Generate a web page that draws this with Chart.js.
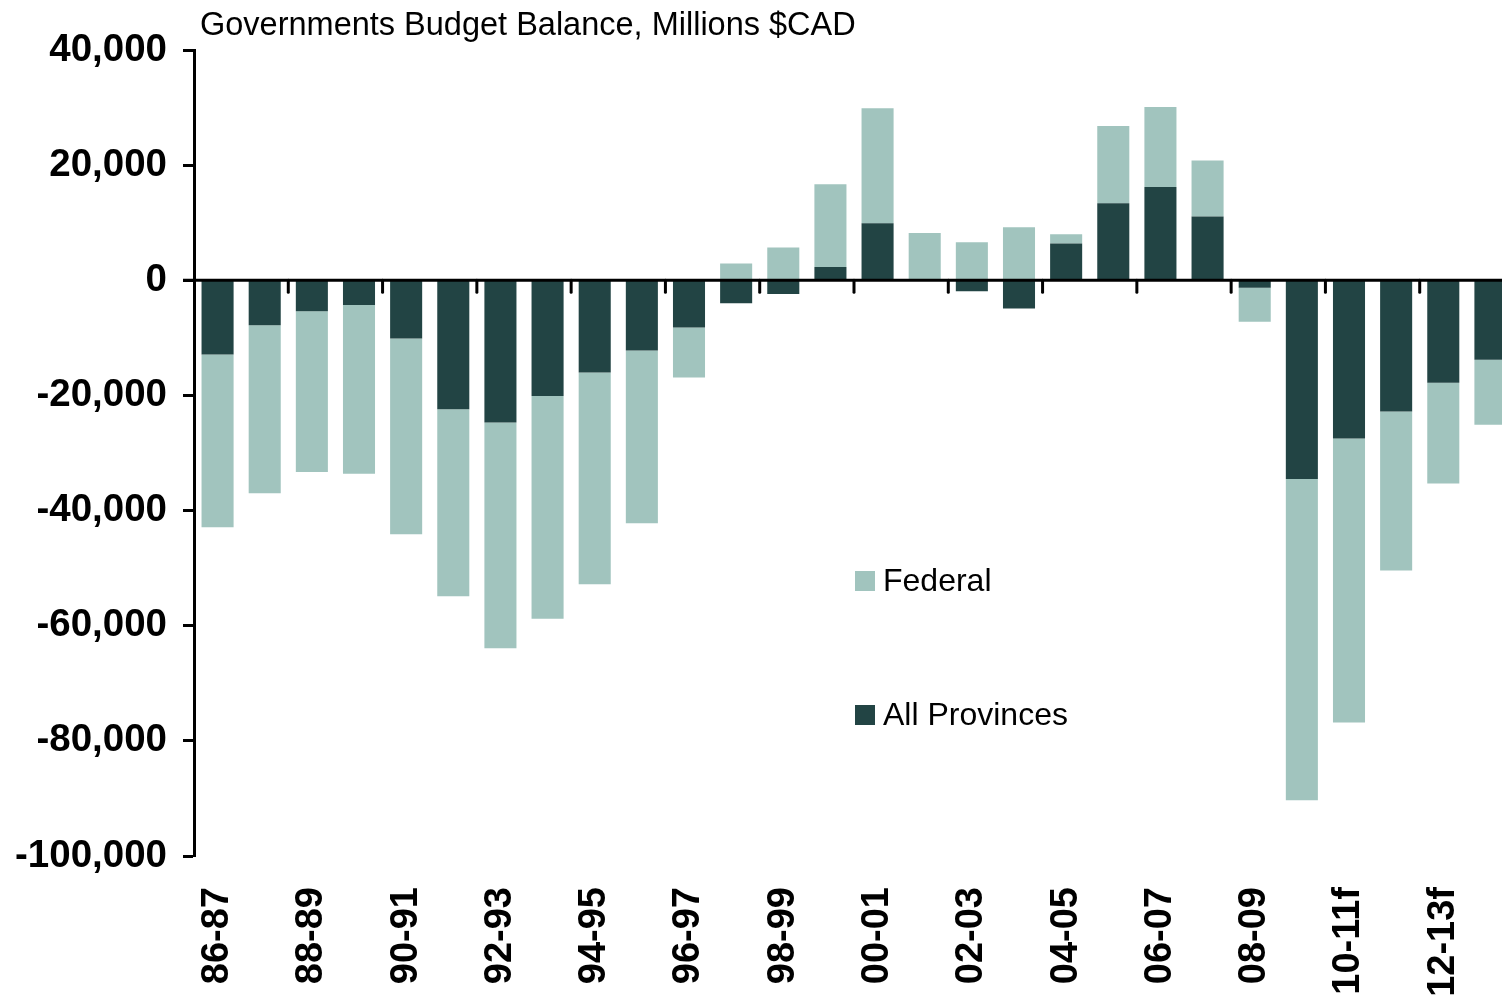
<!DOCTYPE html>
<html>
<head>
<meta charset="utf-8">
<title>Governments Budget Balance</title>
<script src="https://cdn.jsdelivr.net/npm/chart.js@4.4.0/dist/chart.umd.min.js"></script>
<style>
  html, body { margin: 0; padding: 0; background: #fff; overflow: hidden; }
  #wrap { width: 1502px; height: 996px; overflow: hidden; }
</style>
</head>
<body>
<div id="wrap"><canvas id="budget-chart" width="1514" height="996"></canvas></div>
<script>
// fiscal years, the last four are forecasts
const years = ['86-87', '87-88', '88-89', '89-90', '90-91', '91-92', '92-93', '93-94',
  '94-95', '95-96', '96-97', '97-98', '98-99', '99-00', '00-01', '01-02', '02-03',
  '03-04', '04-05', '05-06', '06-07', '07-08', '08-09', '09-10', '10-11f', '11-12f',
  '12-13f', '13-14f'];

// budget balance, millions $CAD
const provinces = [-12900, -7800, -5400, -4300, -10100, -22400, -24700, -20100, -16000,
  -12200, -8200, -4000, -2400, 2300, 9900, 0, -1900, -4900, 6400, 13400, 16200, 11100,
  -1300, -34500, -27500, -22800, -17800, -13800];
const federal = [-30000, -29200, -27900, -29300, -34000, -32500, -39200, -38700, -36800,
  -30000, -8700, 2900, 5700, 14400, 20000, 8200, 6600, 9200, 1600, 13400, 13900, 9700,
  -5900, -55800, -49300, -27600, -17500, -11300];

const yMin = -100000;
const yMax = 40000;
const yStep = 20000;

const FONT = '"Liberation Sans", Arial, Helvetica, sans-serif';
Chart.defaults.font.family = FONT;
Chart.defaults.color = '#000';

// zero line, its tick marks, the title and the legend
const decorations = {
    id: 'decorations',
    afterDatasetsDraw(chart) {
        const { ctx, chartArea, scales: { x, y } } = chart;
        const y0 = y.getPixelForValue(0);
        const half = (x.getPixelForValue(1) - x.getPixelForValue(0)) / 2;
        ctx.save();
        ctx.strokeStyle = '#000';
        ctx.lineWidth = 3;
        ctx.beginPath();
        ctx.moveTo(chartArea.left - 11, y0);
        ctx.lineTo(chartArea.right, y0);
        ctx.stroke();
        ctx.lineCap = 'round';
        for (let i = 2; i < years.length; i += 2) {
            const tx = x.getPixelForValue(i) - half;
            ctx.beginPath();
            ctx.moveTo(tx, y0);
            ctx.lineTo(tx, y0 + 12);
            ctx.stroke();
        }
        ctx.restore();
    },
    afterDraw(chart) {
        const ctx = chart.ctx;
        const sets = chart.data.datasets;
        ctx.save();
        ctx.fillStyle = '#000';
        ctx.textBaseline = 'alphabetic';
        ctx.font = '32.5px ' + FONT;
        ctx.fillText('Governments Budget Balance, Millions $CAD', 200, 35);

        ctx.font = '32px ' + FONT;
        const rows = [{ ds: sets[1], top: 571 }, { ds: sets[0], top: 705 }];
        rows.forEach(row => {
            ctx.fillStyle = row.ds.backgroundColor;
            ctx.fillRect(855, row.top, 20, 20);
            ctx.fillStyle = '#000';
            ctx.fillText(row.ds.label, 883, row.top + 20);
        });
        ctx.restore();
    }
};

const ctx = document.getElementById('budget-chart').getContext('2d');
const budgetChart = new Chart(ctx, {
    type: 'bar',
    data: {
        labels: years,
        datasets: [{
            label: 'All Provinces',
            data: provinces,
            backgroundColor: '#224444',
            barPercentage: 0.68,
            categoryPercentage: 1
        }, {
            label: 'Federal',
            data: federal,
            backgroundColor: '#A1C4BE',
            barPercentage: 0.68,
            categoryPercentage: 1
        }]
    },
    options: {
        responsive: false,
        animation: false,
        layout: { padding: { top: 50, left: 0, right: 0, bottom: 0 } },
        plugins: {
            legend: { display: false },
            tooltip: { enabled: false },
            title: { display: false }
        },
        scales: {
            x: {
                stacked: true,
                border: { display: false },
                grid: {
                    drawOnChartArea: false,
                    drawTicks: true,
                    tickLength: 31,
                    tickColor: 'rgba(0,0,0,0)'
                },
                ticks: {
                    autoSkip: false,
                    minRotation: 90,
                    maxRotation: 90,
                    padding: 0,
                    color: '#000',
                    font: { size: 38, weight: 'bold' },
                    callback: (value, index) => index % 2 === 0 ? years[index] : ''
                },
                afterFit: scale => {
                    scale.height = 140;
                    scale.paddingLeft = 0;
                    scale.paddingRight = 0;
                }
            },
            y: {
                stacked: true,
                min: yMin,
                max: yMax,
                border: { display: true, color: '#000', width: 3 },
                grid: {
                    drawOnChartArea: false,
                    drawTicks: true,
                    tickLength: 11,
                    tickWidth: 3,
                    tickColor: '#000'
                },
                ticks: {
                    stepSize: yStep,
                    padding: 16,
                    color: '#000',
                    font: { size: 38.5, weight: 'bold' },
                    callback: value => value.toLocaleString('en-US')
                },
                afterFit: scale => {
                    scale.width = 194;
                    scale.paddingTop = 0;
                    scale.paddingBottom = 0;
                }
            }
        }
    },
    plugins: [decorations]
});
</script>
</body>
</html>
